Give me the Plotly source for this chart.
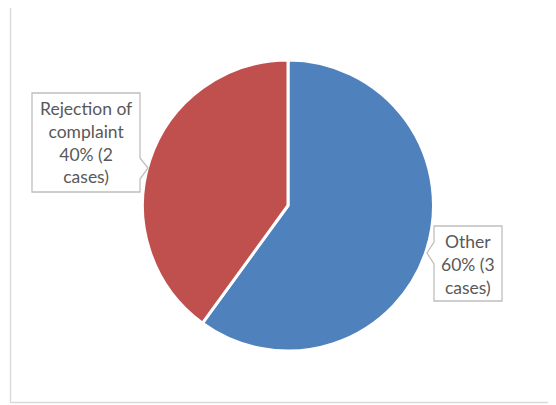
import plotly.graph_objects as go

W, H = 556, 405
OFF = 8  # page body margin offset
labels = ["Other", "Rejection of complaint"]
values = [3, 2]
colors = ["#4F81BD", "#C0504D"]
label_texts = ["Other<br>60% (3<br>cases)", "Rejection of<br>complaint<br>40% (2<br>cases)"]

def px(x):
    return (x - OFF) / W

def py(y):
    return (H - (y - OFF)) / H

cx, cy, r = 288, 205.5, 145.5

fig = go.Figure(go.Pie(
    labels=labels, values=values, sort=False, direction="clockwise", rotation=0,
    marker=dict(colors=colors, line=dict(color="white", width=3)),
    textinfo="none", hoverinfo="label+percent", showlegend=False,
    domain=dict(x=[px(cx - r), px(cx + r)], y=[py(cy + r), py(cy - r)]),
))

def callout(x0, y0, x1, y1, side, tipx, tipy, b0, b1):
    if side == "right":
        pts = [(x0, y0), (x1, y0), (x1, b0), (tipx, tipy), (x1, b1), (x1, y1), (x0, y1)]
    else:
        pts = [(x0, y0), (x1, y0), (x1, y1), (x0, y1), (x0, b1), (tipx, tipy), (x0, b0)]
    d = "M " + " L ".join(f"{px(a):.5f},{py(b):.5f}" for a, b in pts) + " Z"
    return dict(type="path", xref="paper", yref="paper", path=d,
                fillcolor="white", line=dict(color="#BFBFBF", width=1.3))

shapes = [
    dict(type="rect", xref="paper", yref="paper", x0=px(10.5), x1=px(580), y0=py(402.5), y1=py(4.5),
         line=dict(color="#D9D9D9", width=1.3), fillcolor="rgba(0,0,0,0)", layer="below"),
    callout(32, 93, 140, 192, "right", 148, 168, 158, 179),
    callout(434, 226, 502, 301, "left", 427, 253, 242, 264),
]

font = dict(family="Lato, Carlito, sans-serif", size=17.5, color="#595959")
annotations = [
    dict(text=label_texts[1], x=px(86), y=py(142.5), xref="paper", yref="paper", showarrow=False,
         xanchor="center", yanchor="middle", font=font, align="center"),
    dict(text=label_texts[0], x=px(468), y=py(264), xref="paper", yref="paper", showarrow=False,
         xanchor="center", yanchor="middle", font=font, align="center"),
]

fig.update_layout(width=W, height=H, margin=dict(l=0, r=0, t=0, b=0),
                  paper_bgcolor="white", plot_bgcolor="white",
                  shapes=shapes, annotations=annotations)
fig.write_html("out.html")
